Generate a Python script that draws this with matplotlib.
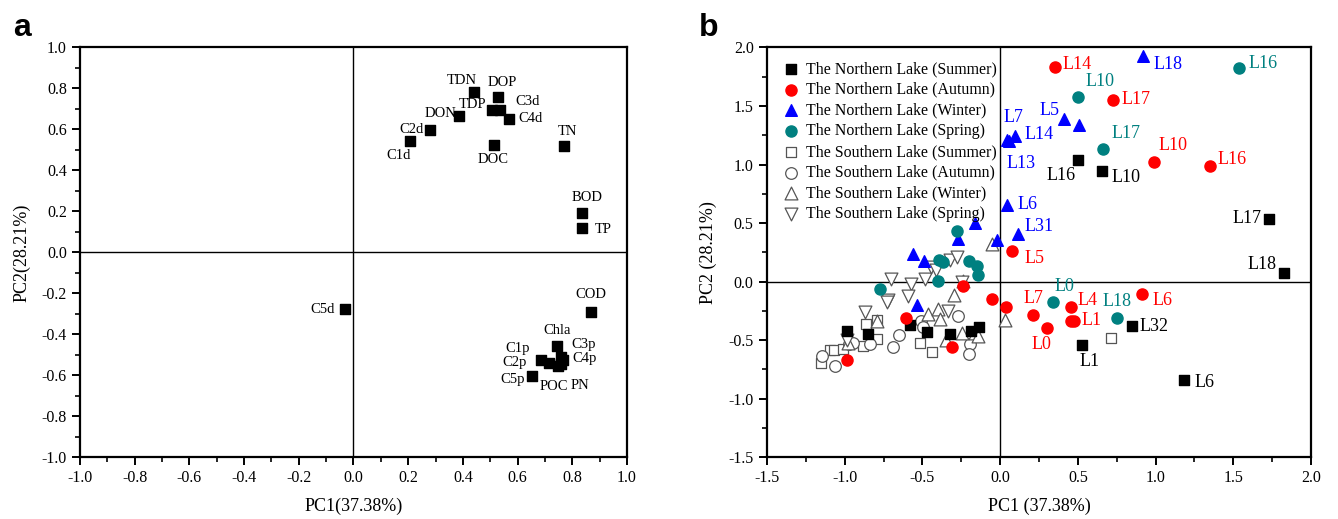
import numpy as np
import matplotlib.pyplot as plt
from matplotlib.ticker import MultipleLocator

plt.rcParams['font.family'] = ['Liberation Serif', 'DejaVu Serif']
plt.rcParams['axes.unicode_minus'] = False

# ---- panel a: loadings ----
var_names = ['TDN', 'DOP', 'TDP', 'C3d', 'C4d', 'DON', 'C2d', 'C1d', 'DOC', 'TN',
             'BOD', 'TP', 'C5d', 'COD', 'Chla', 'C1p', 'C2p', 'C3p', 'C4p', 'C5p',
             'POC', 'PN']
var_pc1 = [0.44, 0.53, 0.505, 0.537, 0.57, 0.384, 0.28, 0.206, 0.512, 0.771,
           0.835, 0.835, -0.03, 0.869, 0.743, 0.686, 0.716, 0.759, 0.765, 0.651,
           0.747, 0.76]
var_pc2 = [0.785, 0.756, 0.696, 0.693, 0.652, 0.668, 0.598, 0.543, 0.525, 0.52,
           0.19, 0.117, -0.278, -0.291, -0.457, -0.527, -0.54, -0.51, -0.527, -0.603,
           -0.556, -0.545]
# label offsets in pixels (dx, dy)
var_off = [(-12, 11), (4, 15), (-19, 5), (27, 9), (21, 0), (-18, 2), (-19, 0), (-11, -14),
           (0, -15), (3, 14), (5, 16), (21, -1), (-23, 0), (0, 17), (0, 15), (-23, 12),
           (-35, 0), (23, 12), (22, 2), (-19, -4), (-4, -20), (19, -21)]

# ---- panel b: scores ----
# The Northern Lake
ns_x = [0.504, 0.658, 1.727, 1.827, 0.847, 0.53, 1.186,
        -0.987, -0.847, -0.579, -0.468, -0.322, -0.189, -0.133]
ns_y = [1.036, 0.942, 0.538, 0.073, -0.379, -0.538, -0.837,
        -0.424, -0.444, -0.367, -0.427, -0.444, -0.422, -0.388]
ns_lab = ['L16', 'L10', 'L17', 'L18', 'L32', 'L1', 'L6']

na_x = [0.35, 0.729, 0.991, 1.351, 0.079, 0.916, 0.455, 0.478, 0.214, 0.30,
        0.457, 0.039, -0.053, -0.605, -0.311, -0.987, -0.236]
na_y = [1.833, 1.548, 1.019, 0.99, 0.261, -0.106, -0.22, -0.336, -0.288, -0.396,
        -0.339, -0.219, -0.145, -0.311, -0.558, -0.666, -0.04]
na_lab = ['L14', 'L17', 'L10', 'L16', 'L5', 'L6', 'L4', 'L1', 'L7', 'L0']

nw_x = [0.922, 0.412, 0.047, 0.097, 0.06, 0.047, 0.118,
        0.51, -0.161, -0.268, -0.558, -0.489, -0.021, -0.536]
nw_y = [1.924, 1.386, 1.212, 1.244, 1.205, 0.652, 0.41,
        1.335, 0.504, 0.367, 0.233, 0.176, 0.353, -0.202]
nw_lab = ['L18', 'L5', 'L7', 'L14', 'L13', 'L6', 'L31']

nsp_x = [1.54, 0.5, 0.661, 0.339, 0.751,
         -0.279, -0.392, -0.365, -0.197, -0.15, -0.144, -0.401, -0.772]
nsp_y = [1.827, 1.577, 1.136, -0.174, -0.307,
         0.43, 0.182, 0.168, 0.173, 0.133, 0.054, 0.003, -0.06]
nsp_lab = ['L16', 'L10', 'L17', 'L0', 'L18']

# The Southern Lake
ss_x = [-1.154, -1.094, -1.066, -1.012, -0.884, -0.862, -0.793, -0.79, -0.515, -0.44, 0.714]
ss_y = [-0.695, -0.581, -0.581, -0.572, -0.553, -0.359, -0.325, -0.487, -0.524, -0.601, -0.478]

sa_x = [-1.147, -1.062, -0.97, -0.944, -0.837, -0.687, -0.648, -0.51, -0.493, -0.268,
        -0.193, -0.197]
sa_y = [-0.638, -0.723, -0.53, -0.524, -0.53, -0.558, -0.459, -0.336, -0.388, -0.294,
        -0.535, -0.621]

sw_x = [-0.05, -0.236, -0.294, -0.461, -0.401, -0.386, -0.347, -0.246, -0.161, -0.14,
        0.032, -0.793, -0.976]
sw_y = [0.324, 0.003, -0.111, -0.279, -0.231, -0.316, -0.501, -0.439, -0.439, -0.467,
        -0.324, -0.336, -0.524]

ssp_x = [-0.703, -0.575, -0.483, -0.444, -0.412, -0.322, -0.279, -0.59, -0.719,
         -0.869, -0.725, -0.987, -0.333, -0.246]
ssp_y = [0.02, -0.023, 0.026, 0.125, 0.102, 0.188, 0.21, -0.126, -0.154,
         -0.26, -0.174, -0.501, -0.251, -0.003]

# label offsets (pixels) for labelled points of panel b
ns_off = [(-17, -15), (24, -6), (-22, 0), (-22, 9), (22, 0), (7, -17), (20, -3)]
na_off = [(23, 3), (23, 1), (19, 17), (22, 6), (22, -7), (20, -6), (17, 7), (17, 0), (0, 17), (-5, -17)]
nw_off = [(25, -8), (-15, 9), (6, 22), (24, 1), (12, -23), (20, 1), (21, 7)]
nsp_off = [(24, 4), (22, 16), (23, 15), (12, 16), (0, 16)]

teal = '#008080'
grey = '#555555'

fig = plt.figure(figsize=(13.38, 5.19), dpi=100)
ax1 = fig.add_axes([0.0598, 0.119, 0.4088, 0.7895])
ax2 = fig.add_axes([0.5732, 0.119, 0.4066, 0.7895])


def style_axis(ax):
    for s in ax.spines.values():
        s.set_linewidth(1.6)
    ax.tick_params(which='major', direction='out', length=6, width=1.4, labelsize=11.5,
                   top=False, right=False)
    ax.tick_params(which='minor', direction='out', length=3.5, width=1.2,
                   top=False, right=False)
    ax.axhline(0, color='black', lw=1.0, zorder=1)
    ax.axvline(0, color='black', lw=1.0, zorder=1)


# panel a
ax1.scatter(var_pc1, var_pc2, marker='s', s=48, color='black', zorder=3)
for name, x, y, off in zip(var_names, var_pc1, var_pc2, var_off):
    ax1.annotate(name, (x, y), xytext=off, textcoords='offset pixels',
                 ha='center', va='center', fontsize=10.5)
ax1.set_xlim(-1.0, 1.0)
ax1.set_ylim(-1.0, 1.0)
ax1.xaxis.set_major_locator(MultipleLocator(0.2))
ax1.xaxis.set_minor_locator(MultipleLocator(0.1))
ax1.yaxis.set_major_locator(MultipleLocator(0.2))
ax1.yaxis.set_minor_locator(MultipleLocator(0.1))
ax1.set_xlabel('PC1(37.38%)', fontsize=13, labelpad=8)
ax1.set_ylabel('PC2(28.21%)', fontsize=13, labelpad=8)
style_axis(ax1)

# panel b
ax2.scatter(ns_x, ns_y, marker='s', s=48, color='black', zorder=3,
            label='The Northern Lake (Summer)')
ax2.scatter(na_x, na_y, marker='o', s=64, color='red', zorder=3,
            label='The Northern Lake (Autumn)')
ax2.scatter(nw_x, nw_y, marker='^', s=70, color='blue', zorder=3,
            label='The Northern Lake (Winter)')
ax2.scatter(nsp_x, nsp_y, marker='o', s=64, color=teal, zorder=3,
            label='The Northern Lake (Spring)')
ax2.scatter(ss_x, ss_y, marker='s', s=55, facecolor='white', edgecolor=grey, lw=0.9,
            zorder=2, label='The Southern Lake (Summer)')
ax2.scatter(sa_x, sa_y, marker='o', s=70, facecolor='white', edgecolor=grey, lw=0.9,
            zorder=2, label='The Southern Lake (Autumn)')
ax2.scatter(sw_x, sw_y, marker='^', s=85, facecolor='white', edgecolor=grey, lw=0.9,
            zorder=2, label='The Southern Lake (Winter)')
ax2.scatter(ssp_x, ssp_y, marker='v', s=85, facecolor='white', edgecolor=grey, lw=0.9,
            zorder=2, label='The Southern Lake (Spring)')

for labs, xs, ys, offs, c in [(ns_lab, ns_x, ns_y, ns_off, 'black'),
                              (na_lab, na_x, na_y, na_off, 'red'),
                              (nw_lab, nw_x, nw_y, nw_off, 'blue'),
                              (nsp_lab, nsp_x, nsp_y, nsp_off, teal)]:
    for lab, x, y, off in zip(labs, xs, ys, offs):
        ax2.annotate(lab, (x, y), xytext=off, textcoords='offset pixels',
                     ha='center', va='center', fontsize=13, color=c)

ax2.set_xlim(-1.5, 2.0)
ax2.set_ylim(-1.5, 2.0)
ax2.xaxis.set_major_locator(MultipleLocator(0.5))
ax2.xaxis.set_minor_locator(MultipleLocator(0.25))
ax2.yaxis.set_major_locator(MultipleLocator(0.5))
ax2.yaxis.set_minor_locator(MultipleLocator(0.25))
ax2.set_xlabel('PC1 (37.38%)', fontsize=13, labelpad=8)
ax2.set_ylabel('PC2 (28.21%)', fontsize=13, labelpad=8)
style_axis(ax2)
ax2.legend(loc='upper left', frameon=False, fontsize=11.4, handletextpad=0.3,
           labelspacing=0.3, borderaxespad=0.45, handlelength=1.3,
           bbox_to_anchor=(0.0, 1.0))

fig.text(0.010, 0.93, 'a', fontsize=23, fontweight='bold', family='Liberation Sans')
fig.text(0.522, 0.93, 'b', fontsize=23, fontweight='bold', family='Liberation Sans')

fig.savefig('out.png', dpi=100)
